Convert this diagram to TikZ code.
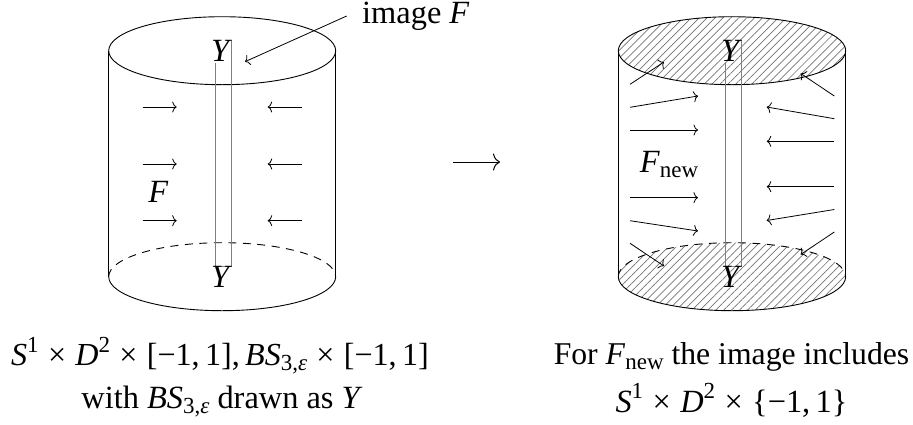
\documentclass[tikz,border=0pt]{standalone}
\usepackage{fontspec}
\setmainfont{Liberation Serif}
\usetikzlibrary{arrows.meta,patterns.meta}
\newcommand{\vi}[1]{\textit{#1}}
\newcommand{\upidx}[1]{\raisebox{0.42em}{\fontsize{23}{23}\selectfont #1}}
\newcommand{\dnidx}[1]{\raisebox{-0.16em}{\fontsize{23}{23}\selectfont #1}}
\newcommand{\tms}{\hspace{.29em}×\hspace{.29em}}
\tikzset{
  x=1pt,y=-1pt,
  txt/.style={font=\fontsize{32.4}{36}\selectfont,inner sep=0pt,anchor=base},
  txtb/.style={font=\fontsize{32.1}{36}\selectfont,inner sep=0pt,anchor=base},
  txtc/.style={font=\fontsize{31.7}{36}\selectfont,inner sep=0pt,anchor=base},
  flow/.style={-{To[length=4.5pt,width=11pt]},line width=.8pt},
  bigflow/.style={-{To[length=7pt,width=17pt]},line width=1pt},
  rim/.style={line width=.9pt},
  strip/.style={draw=black!50,line width=.8pt},
  hatch/.style={pattern={Lines[angle=45,distance=5.6pt,line width=.7pt]},pattern color=black!55}
}
\begin{document}
\begin{tikzpicture}
\useasboundingbox (0,0) rectangle (913,424);
% left cylinder
\draw[rim] (222.2,50.7) ellipse [x radius=113.5,y radius=34];
\draw[rim] (108.7,276.7) arc [start angle=180,end angle=360,x radius=113.5,y radius=-34];
\draw[rim,dash pattern=on 8pt off 6.5pt] (108.7,276.7) arc [start angle=180,end angle=0,x radius=113.5,y radius=-34];
\draw[rim] (108.7,50.7) -- (108.7,276.7);
\draw[rim] (335.7,50.7) -- (335.7,276.7);
\draw[strip] (215,63) -- (215,266) -- (231,266) -- (231,40);
\node[txt] (yt) at (221.5,61.7) {\vi{Y}};
\node[txt] (yb) at (221.5,287.7) {\vi{Y}};
\node[txt] (ff) at (158.5,202.7) {\vi{F}};
\foreach \n/\x/\y/\u/\v in {
 1/142.7/107/176.7/107, 2/142.7/164/176.7/164, 3/142.7/220.7/176.7/220.7,
 4/301.7/107/267.7/107, 5/301.7/164/267.7/164, 6/301.7/220.7/267.7/220.7}{
 \coordinate (ls\n) at (\x,\y); \coordinate (le\n) at (\u,\v);
 \draw[flow] (ls\n) -- (le\n);
}
\node[txt,anchor=base west] (imf) at (362,23) {image \vi{F}};
\coordinate (imfs) at (346.7,16);
\coordinate (imfe) at (245,61.7);
\draw[flow] (imfs) -- (imfe);
% big arrow
\coordinate (bigs) at (453,162);
\coordinate (bige) at (500,162);
\draw[bigflow] (bigs) -- (bige);
% right cylinder
\draw[rim,hatch] (732,50.7) ellipse [x radius=113.7,y radius=34];
\fill[hatch] (618.3,276.7) arc [start angle=180,end angle=-180,x radius=113.7,y radius=34];
\draw[rim] (618.3,276.7) arc [start angle=180,end angle=360,x radius=113.7,y radius=-34];
\draw[rim,dash pattern=on 8pt off 6.5pt] (618.3,276.7) arc [start angle=180,end angle=0,x radius=113.7,y radius=-34];
\draw[rim] (618.3,50.7) -- (618.3,276.7);
\draw[rim] (845.7,50.7) -- (845.7,276.7);
\draw[strip] (725.3,63) -- (725.3,266) -- (741.3,266) -- (741.3,40);
\node[txt] (ryt) at (731.5,61.7) {\vi{Y}};
\node[txt] (ryb) at (731.5,287.7) {\vi{Y}};
\node[txt] (fnew) at (669,172.7) {\vi{F}\dnidx{new}};
\foreach \n/\x/\y/\u/\v in {
 1/630/84.3/664/62, 2/630/107.3/698/96, 3/630/130/698/130,
 4/630/197.7/698/197.7, 5/630/220.7/698/231, 6/630/243.3/664/266,
 7/834.3/96/800.7/73.5, 8/834.3/118.7/766.7/107, 9/834.3/141.3/766.7/141.3,
 10/834.3/186.7/766.7/186.7, 11/834.3/209.5/766.7/220.5, 12/834.3/232/800.7/254.5}{
 \coordinate (rs\n) at (\x,\y); \coordinate (re\n) at (\u,\v);
 \draw[flow] (rs\n) -- (re\n);
}
% captions
\node[txtb] (cl1) at (220,365.5) {\vi{S}\upidx{1}\tms\vi{D}\upidx{2}\tms[−1,\,1],\,\vi{BS}\dnidx{3,\vi{ε}}\tms[−1,\,1]};
\node[txt] (cl2) at (222,408) {with \vi{BS}\dnidx{3,\vi{ε}} drawn as \vi{Y}};
\node[txtc] (cr1) at (731.5,364) {For \vi{F}\dnidx{new} the image includes};
\node[txt] (cr2) at (731.5,412) {\vi{S}\upidx{1}\tms\vi{D}\upidx{2}\tms\{−1,\,1\}};
\end{tikzpicture}
\end{document}
